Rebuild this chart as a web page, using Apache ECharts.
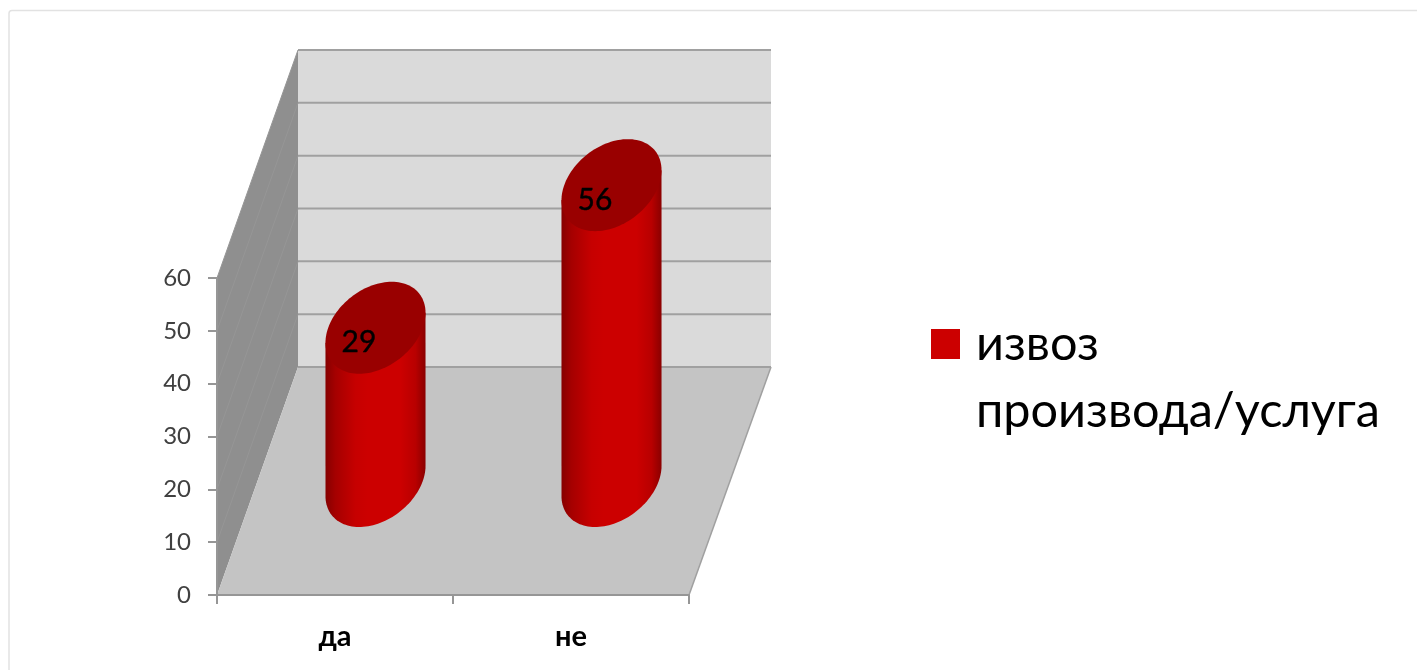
<!DOCTYPE html>
<html>
<head>
<meta charset="utf-8">
<style>html,body{margin:0;padding:0;background:#fff}#c{width:1417px;height:670px}</style>
<script src="https://cdn.jsdelivr.net/npm/echarts@6/dist/echarts.min.js"></script>
</head>
<body>
<div id="c"></div>
<script>
const categories = ['да', 'не'];
const seriesName = 'извоз\nпроизвода/услуга';
const seriesValues = [29, 56];
const yTicks = [0, 10, 20, 30, 40, 50, 60];

const FONT = 'Lato, "Open Sans", "Noto Sans", sans-serif';
const DX = 81, DY = 228;
const MIDX = DX / 2, MIDY = DY / 2;
const ELL_A = 47.3, ELL_S = 16.3, ELL_B = 46;

const chart = echarts.init(document.getElementById('c'), null, {renderer: 'canvas'});

function ellipsePoint(cx, cy, t) {
  return [cx + ELL_A * Math.cos(t) + ELL_S * Math.sin(t), cy - ELL_B * Math.sin(t)];
}

function renderWalls(params, api) {
  const cs = params.coordSys;
  const v = api.value(1);
  const y = api.coord([0, v])[1];
  const L = cs.x, R = cs.x + cs.width, T = cs.y, B = cs.y + cs.height;
  const children = [];
  if (params.dataIndex === 0) {
    children.push({type: 'polygon', shape: {points: [[L, B], [L, T], [L + DX, T - DY], [L + DX, B - DY]]},
      style: {fill: '#8f8f8f'}});
    children.push({type: 'polygon', shape: {points: [[L + DX, T - DY], [R + DX + 1, T - DY], [R + DX + 1, B - DY], [L + DX, B - DY]]},
      style: {fill: '#dadada'}});
    children.push({type: 'polygon', shape: {points: [[L, B], [R, B], [R + DX + 1, B - DY], [L + DX, B - DY]]},
      style: {fill: '#c4c4c4'}});
    children.push({type: 'line', shape: {x1: R, y1: B, x2: R + DX + 1, y2: B - DY},
      style: {stroke: '#a0a0a0', lineWidth: 1.5}});
  }
  children.push({type: 'line', shape: {x1: L + DX, y1: y - DY, x2: R + DX + 1, y2: y - DY},
    style: {stroke: '#a0a0a0', lineWidth: 2}});
  if (v > 0) {
    children.push({type: 'line', shape: {x1: L, y1: y, x2: L + DX, y2: y - DY},
      style: {stroke: '#969696', lineWidth: 1}});
  }
  return {type: 'group', children};
}

function renderCylinder(params, api) {
  const base = api.coord([api.value(0), 0]);
  const top = api.coord([api.value(0), api.value(1)]);
  const cx = base[0] + MIDX;
  const by = base[1] - MIDY;
  const ty = top[1] - MIDY;
  const t0 = Math.atan2(ELL_S, ELL_A);
  const body = [];
  const n = 64;
  for (let i = 0; i <= n; i++) body.push(ellipsePoint(cx, by, t0 - Math.PI * i / n));
  body.push(ellipsePoint(cx, ty, t0 - Math.PI));
  body.push(ellipsePoint(cx, ty, t0));
  const cap = [];
  for (let i = 0; i < 128; i++) cap.push(ellipsePoint(cx, ty, 2 * Math.PI * i / 128));
  return {type: 'group', children: [
    {type: 'polygon', shape: {points: body}, style: {
      fill: new echarts.graphic.LinearGradient(0, 0, 1, 0, [
        {offset: 0, color: '#860000'},
        {offset: 0.1, color: '#a50000'},
        {offset: 0.3, color: '#c60000'},
        {offset: 0.42, color: '#cc0000'},
        {offset: 0.75, color: '#cc0000'},
        {offset: 0.9, color: '#b80000'},
        {offset: 1, color: '#8a0000'}
      ])}},
    {type: 'polygon', shape: {points: cap}, style: {fill: '#990000'}},
    {type: 'text', style: {text: String(api.value(1)), x: cx - 16.5, y: ty + 15,
      fill: '#000', stroke: '#000', lineWidth: 0.4, font: '30px ' + FONT, align: 'center', verticalAlign: 'middle'}}
  ]};
}

chart.setOption({
  animation: false,
  backgroundColor: '#fff',
  graphic: [{type: 'rect', z: -1, shape: {x: 9, y: 10.5, width: 1430, height: 700, r: 3},
    style: {fill: '#fff', stroke: '#e2e2e2', lineWidth: 1.5}}],
  grid: {left: 217, right: 728, top: 278, bottom: 75},
  legend: {
    left: 931, top: 311, padding: 0, orient: 'vertical', selectedMode: false,
    data: [{name: seriesName, icon: 'path://M0 18H29V48H0ZM0 0L0 0ZM40 134L40 134Z'}],
    itemWidth: 40, itemHeight: 134,
    textStyle: {fontFamily: FONT, fontSize: 48.6, lineHeight: 67, color: '#000'}
  },
  xAxis: {
    type: 'category', data: categories, z: 3,
    axisLine: {show: true, lineStyle: {color: '#969696', width: 2}},
    axisTick: {show: true, length: 9, alignWithLabel: false, lineStyle: {color: '#969696', width: 2}},
    axisLabel: {margin: 27, fontFamily: FONT, fontSize: 29, fontWeight: 'bold', color: '#000', interval: 0},
    splitLine: {show: false}
  },
  yAxis: {
    type: 'value', min: 0, max: 60, interval: 10, z: 3,
    axisLine: {show: true, lineStyle: {color: '#969696', width: 2}},
    axisTick: {show: true, length: 9, lineStyle: {color: '#969696', width: 2}},
    axisLabel: {margin: 26, fontFamily: FONT, fontSize: 24, color: '#404040', padding: [3, 0, 0, 0],
      customValues: yTicks},
    splitLine: {show: false}
  },
  series: [
    {name: 'walls', type: 'custom', z: 1, silent: true, renderItem: renderWalls,
      data: yTicks.map(v => [0, v]), encode: {x: 0, y: 1}},
    {name: seriesName, type: 'custom', z: 4, renderItem: renderCylinder, itemStyle: {color: '#cc0000'},
      data: seriesValues.map((v, i) => [i, v]), encode: {x: 0, y: 1}}
  ]
});
</script>
</body>
</html>
